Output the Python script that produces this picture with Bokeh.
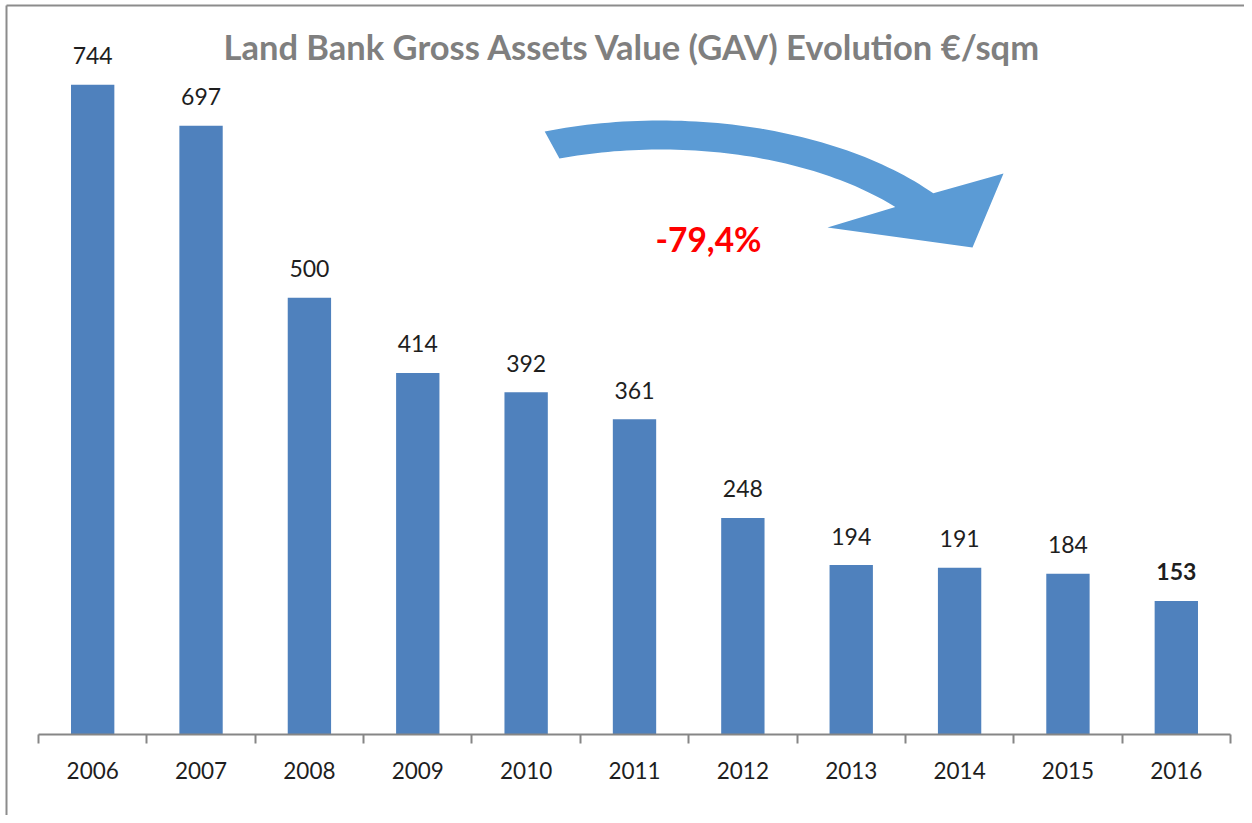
import numpy as np
from bokeh.plotting import figure
from bokeh.models import Range1d, FixedTicker, ColumnDataSource, Label
from bokeh.embed import file_html
from bokeh.resources import INLINE
from bokeh.core.properties import value

# ---- data ----
years = ["2006", "2007", "2008", "2009", "2010", "2011", "2012", "2013", "2014", "2015", "2016"]
gav = [744, 697, 500, 414, 392, 361, 248, 194, 191, 184, 153]
label_style = ["normal"] * 10 + ["bold"]
title_text = "Land Bank Gross Assets Value (GAV) Evolution €/sqm"
change_text = "-79,4%"

FONT = "Lato"
BAR = "#4F81BD"
ARROW_C = "#5B9BD5"
AXIS_C = "#868686"
BORDER_C = "#8c8c8c"

# ---- layout (pixel positions relative to the figure's top-left) ----
W, H = 1244, 815
AX_L, AX_R = 38, 1230      # x of the category axis ends
AX_Y = 734                 # y of the axis line
PX_PER_UNIT = 0.8733       # vertical pixels per value unit
n = len(years)
ppu_x = (AX_R - AX_L) / n
x_start = -0.5 - AX_L / ppu_x
x_end = n - 0.5 + (W - AX_R) / ppu_x
y_start = -(H - AX_Y) / PX_PER_UNIT
y_end = AX_Y / PX_PER_UNIT

p = figure(width=W, height=H, output_backend="svg", toolbar_location=None,
           x_range=Range1d(x_start, x_end), y_range=Range1d(y_start, y_end),
           min_border=0)
p.extra_x_ranges = {"px": Range1d(0, W)}
p.extra_y_ranges = {"px": Range1d(H, 0)}

p.outline_line_color = None
p.xgrid.visible = False
p.ygrid.visible = False
p.yaxis.visible = False
p.background_fill_color = "white"
p.border_fill_color = "white"

xs = list(range(n))
src = ColumnDataSource(dict(x=xs, gav=gav, label=[str(v) for v in gav], style=label_style))

p.vbar(x="x", top="gav", bottom=0, width=0.4, source=src, fill_color=BAR, line_color=None)
p.text(x="x", y="gav", text="label", source=src, text_align="center", text_baseline="middle",
       y_offset=-29, text_font=value(FONT), text_font_size="23px", text_font_style="style",
       text_color="#1e1e1e")

ax = p.xaxis[0]
ax.fixed_location = 0
ax.bounds = (-0.5, n - 0.5)
ax.ticker = FixedTicker(ticks=xs, minor_ticks=[i - 0.5 for i in range(n + 1)])
ax.major_label_overrides = {i: y for i, y in zip(xs, years)}
ax.major_tick_out = 0
ax.major_tick_in = 0
ax.minor_tick_out = 9
ax.minor_tick_in = 0
ax.axis_line_color = AXIS_C
ax.axis_line_width = 2
ax.minor_tick_line_color = AXIS_C
ax.minor_tick_line_width = 2
ax.major_label_text_font = FONT
ax.major_label_text_font_size = "22.5px"
ax.major_label_text_color = "#1e1e1e"
ax.major_label_standoff = 18

# ---- chart border (top and left edges) ----
p.segment(x0=[6, 6], y0=[5, 5], x1=[W, 6], y1=[5, H],
          line_color=BORDER_C, line_width=2, x_range_name="px", y_range_name="px")

# ---- decorative curved arrow (pixel geometry) ----
cx, cy = 660.0, 313.0
ao, bo = 348.6, 193.0
ai, bi = 308.8, 164.0
t_out = np.radians(np.linspace(109.4, 38.5, 60))
t_in = np.radians(np.linspace(40.5, 109.1, 60))
ax_pts = list(cx + ao * np.cos(t_out)) + [1003, 972, 827] + list(cx + ai * np.cos(t_in))
ay_pts = list(cy - bo * np.sin(t_out)) + [173, 247, 227] + list(cy - bi * np.sin(t_in))
p.patch(ax_pts, ay_pts, fill_color=ARROW_C, line_color=None, x_range_name="px", y_range_name="px")

p.add_layout(Label(x=632, y=46, text=title_text, x_range_name="px", y_range_name="px",
                   text_align="center", text_baseline="middle", text_font=FONT,
                   text_font_style="bold", text_font_size="34.5px", text_color="#7f7f7f"))
p.add_layout(Label(x=708, y=238, text=change_text, x_range_name="px", y_range_name="px",
                   text_align="center", text_baseline="middle", text_font=FONT,
                   text_font_style="bold", text_font_size="33.5px", text_color="#ff0000"))

open("out.html", "w").write(file_html(p, INLINE))
